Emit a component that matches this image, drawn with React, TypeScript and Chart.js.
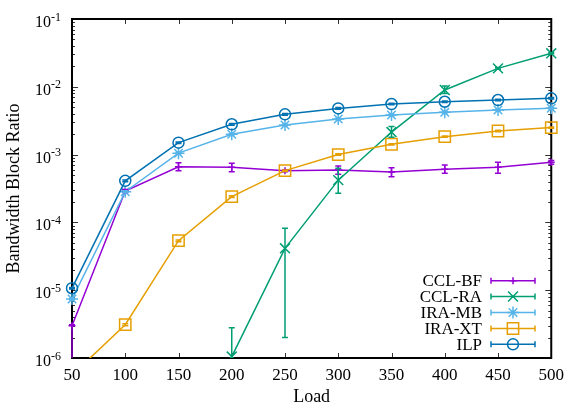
import React, { useEffect, useRef } from 'react';
import { Chart, registerables } from 'chart.js';
import { drawPoint } from 'chart.js/helpers';

Chart.register(...registerables);

// ---- data ----
const loads = [50, 100, 150, 200, 250, 300, 350, 400, 450, 500];

const cclBF = [3.0e-6, 2.9e-4, 6.63e-4, 6.5e-4, 5.8e-4, 5.93e-4, 5.54e-4, 6.07e-4, 6.5e-4, 7.69e-4];
const cclBFLow = [4e-7, 2.75e-4, 5.79e-4, 5.6e-4, 5.6e-4, 5.12e-4, 4.72e-4, 5.3e-4, 5.3e-4, 7.2e-4];
const cclBFHigh = [3.1e-6, 3.05e-4, 7.6e-4, 7.45e-4, 6.0e-4, 6.79e-4, 6.41e-4, 7.03e-4, 7.69e-4, 8.2e-4];

const cclRA = [null, null, null, 1.05e-6, 4.15e-5, 4.2e-4, 2.15e-3, 8.97e-3, 1.87e-2, 3.12e-2];
const cclRALow = [null, null, null, 3e-7, 2.0e-6, 2.7e-4, 1.8e-3, 7.98e-3, 1.82e-2, 3.06e-2];
const cclRAHigh = [null, null, null, 2.8e-6, 8.2e-5, 6.3e-4, 2.6e-3, 1.03e-2, 1.93e-2, 3.18e-2];

const iraMB = [7.4e-6, 2.84e-4, 1.05e-3, 2.0e-3, 2.73e-3, 3.35e-3, 3.84e-3, 4.2e-3, 4.55e-3, 4.82e-3];
const iraMBLow = [7.2e-6, 2.76e-4, 1.02e-3, 1.95e-3, 2.66e-3, 3.27e-3, 3.75e-3, 4.1e-3, 4.44e-3, 4.7e-3];
const iraMBHigh = [7.6e-6, 2.92e-4, 1.08e-3, 2.05e-3, 2.8e-3, 3.43e-3, 3.93e-3, 4.3e-3, 4.66e-3, 4.94e-3];

const iraXT = [5.6e-7, 3.1e-6, 5.37e-5, 2.4e-4, 5.8e-4, 1.0e-3, 1.42e-3, 1.84e-3, 2.23e-3, 2.5e-3];
const iraXTLow = [5.4e-7, 3.0e-6, 5.2e-5, 2.33e-4, 5.65e-4, 9.75e-4, 1.39e-3, 1.8e-3, 2.18e-3, 2.44e-3];
const iraXTHigh = [5.8e-7, 3.2e-6, 5.5e-5, 2.47e-4, 5.95e-4, 1.03e-3, 1.45e-3, 1.88e-3, 2.28e-3, 2.56e-3];

const ilp = [1.07e-5, 4.1e-4, 1.5e-3, 2.8e-3, 3.93e-3, 4.8e-3, 5.57e-3, 6.02e-3, 6.38e-3, 6.76e-3];
const ilpLow = [1.04e-5, 3.98e-4, 1.46e-3, 2.72e-3, 3.82e-3, 4.67e-3, 5.42e-3, 5.86e-3, 6.21e-3, 6.58e-3];
const ilpHigh = [1.1e-5, 4.22e-4, 1.54e-3, 2.88e-3, 4.04e-3, 4.93e-3, 5.72e-3, 6.18e-3, 6.55e-3, 6.94e-3];

const yDecades = [-6, -5, -4, -3, -2, -1];

const FONT = '"Liberation Serif", "Times New Roman", serif';

type Series = {
  label: string;
  values: (number | null)[];
  low: (number | null)[];
  high: (number | null)[];
  color: string;
  pointStyle: string;
  radius: number;
};

const SERIES: Series[] = [
  { label: 'CCL-BF', values: cclBF, low: cclBFLow, high: cclBFHigh, color: '#9400D3', pointStyle: 'cross', radius: 3.5 },
  { label: 'CCL-RA', values: cclRA, low: cclRALow, high: cclRAHigh, color: '#009E73', pointStyle: 'crossRot', radius: 7 },
  { label: 'IRA-MB', values: iraMB, low: iraMBLow, high: iraMBHigh, color: '#56B4E9', pointStyle: 'star', radius: 6 },
  { label: 'IRA-XT', values: iraXT, low: iraXTLow, high: iraXTHigh, color: '#E69F00', pointStyle: 'rect', radius: 8 },
  { label: 'ILP', values: ilp, low: ilpLow, high: ilpHigh, color: '#0072B2', pointStyle: 'circle', radius: 5.5 },
];

const CAP = 3;

const decorPlugin = {
  id: 'decor',
  beforeDatasetsDraw(chart: any) {
    const ctx = chart.ctx as CanvasRenderingContext2D;
    const { left, right, top, bottom } = chart.chartArea;
    const xs = chart.scales.x;
    const ys = chart.scales.y;
    ctx.save();
    // inward ticks
    ctx.strokeStyle = '#333';
    ctx.lineWidth = 1;
    ctx.beginPath();
    loads.forEach((v) => {
      const px = Math.round(xs.getPixelForValue(v)) + 0.5;
      ctx.moveTo(px, bottom);
      ctx.lineTo(px, bottom - 5);
      ctx.moveTo(px, top);
      ctx.lineTo(px, top + 5);
    });
    yDecades.forEach((d) => {
      for (let m = 1; m <= 9; m++) {
        const v = m * Math.pow(10, d);
        if (v > 0.1 * 1.0001) continue;
        const py = Math.round(ys.getPixelForValue(v)) + 0.5;
        const len = m === 1 ? 6 : 3;
        ctx.moveTo(left, py);
        ctx.lineTo(left + len, py);
        ctx.moveTo(right, py);
        ctx.lineTo(right - len, py);
      }
    });
    ctx.stroke();
    // frame
    ctx.strokeStyle = '#000';
    ctx.lineWidth = 2;
    ctx.strokeRect(left, top, right - left, bottom - top);
    ctx.restore();
  },
  afterDatasetsDraw(chart: any) {
    const ctx = chart.ctx as CanvasRenderingContext2D;
    const { left, right, top, bottom } = chart.chartArea;
    const xs = chart.scales.x;
    const ys = chart.scales.y;
    ctx.save();
    ctx.beginPath();
    ctx.rect(left - 10, top, right - left + 20, bottom - top);
    ctx.clip();
    ctx.lineWidth = 1.5;
    SERIES.forEach((s) => {
      ctx.strokeStyle = s.color;
      for (let i = 0; i < loads.length; i++) {
        const lo = s.low[i];
        const hi = s.high[i];
        if (s.values[i] == null || lo == null || hi == null) continue;
        const px = xs.getPixelForValue(loads[i]);
        const yl = ys.getPixelForValue(lo);
        const yh = ys.getPixelForValue(hi);
        ctx.beginPath();
        ctx.moveTo(px, yl);
        ctx.lineTo(px, yh);
        ctx.moveTo(px - CAP, yl);
        ctx.lineTo(px + CAP, yl);
        ctx.moveTo(px - CAP, yh);
        ctx.lineTo(px + CAP, yh);
        ctx.stroke();
      }
    });
    ctx.restore();
  },
  afterDraw(chart: any) {
    const ctx = chart.ctx as CanvasRenderingContext2D;
    const ys = chart.scales.y;
    ctx.save();
    // y tick labels 10^n
    ctx.fillStyle = '#000';
    ctx.textBaseline = 'alphabetic';
    ctx.textAlign = 'right';
    yDecades.forEach((d) => {
      const py = ys.getPixelForValue(Math.pow(10, d));
      const exp = String(d);
      ctx.font = `12px ${FONT}`;
      const ew = ctx.measureText(exp).width;
      ctx.fillText(exp, 61, py + 1.5);
      ctx.font = `16px ${FONT}`;
      ctx.fillText('10', 61 - ew, py + 8);
    });

    // legend
    const lx0 = 491;
    const lx1 = 535;
    const mx = 513;
    const textX = 482;
    const rowY = [280.7, 296.5, 312.5, 328.5, 344.3];
    ctx.font = `17px ${FONT}`;
    ctx.textAlign = 'right';
    ctx.textBaseline = 'middle';
    SERIES.forEach((s, i) => {
      const y = rowY[i];
      ctx.fillStyle = '#000';
      ctx.fillText(s.label, textX, y + 1);
      ctx.strokeStyle = s.color;
      ctx.lineWidth = 1.5;
      ctx.beginPath();
      ctx.moveTo(lx0, y);
      ctx.lineTo(lx1, y);
      ctx.moveTo(lx0, y - CAP);
      ctx.lineTo(lx0, y + CAP);
      ctx.moveTo(lx1, y - CAP);
      ctx.lineTo(lx1, y + CAP);
      ctx.stroke();
      ctx.fillStyle = 'rgba(0,0,0,0)';
      drawPoint(ctx, { pointStyle: s.pointStyle as any, radius: s.radius, rotation: 0, borderWidth: 1.5 } as any, mx, y);
    });
    ctx.restore();
  },
};

export default function App() {
  const ref = useRef<HTMLCanvasElement>(null);
  useEffect(() => {
    document.body.style.margin = '0';
    const datasets = SERIES.map((s, i) => ({
      label: s.label,
      data: loads.map((x, j) => ({ x, y: s.values[j] })),
      borderColor: s.color,
      backgroundColor: 'rgba(0,0,0,0)',
      pointBorderColor: s.color,
      pointBackgroundColor: 'rgba(0,0,0,0)',
      pointStyle: s.pointStyle,
      pointRadius: s.radius,
      pointBorderWidth: 1.5,
      borderWidth: 1.5,
      tension: 0,
      spanGaps: false,
      clip: { left: 10, right: 10, top: 10, bottom: 0 },
      order: SERIES.length - i,
    }));
    const chart = new Chart(ref.current as HTMLCanvasElement, {
      type: 'line',
      data: { datasets: datasets as any },
      plugins: [decorPlugin as any],
      options: {
        animation: false,
        responsive: false,
        events: [],
        layout: { padding: { left: 0, right: 16, top: 19, bottom: 0 } },
        plugins: { legend: { display: false }, tooltip: { enabled: false } },
        scales: {
          x: {
            type: 'linear',
            min: 50,
            max: 500,
            ticks: { stepSize: 50, padding: 7, color: '#000', font: { family: FONT, size: 17 }, autoSkip: false, maxRotation: 0 },
            grid: { display: false, drawTicks: false },
            border: { display: false },
            title: { display: true, text: 'Load', color: '#000', font: { family: FONT, size: 18, lineHeight: 1 }, padding: 0 },
            afterFit: (s: any) => { s.height = 48; },
          },
          y: {
            type: 'logarithmic',
            min: 1e-6,
            max: 1e-1,
            ticks: { display: false },
            grid: { display: false, drawTicks: false },
            border: { display: false },
            title: { display: true, text: 'Bandwidth Block Ratio', color: '#000', font: { family: FONT, size: 18, lineHeight: 1 }, padding: 5 },
            afterFit: (s: any) => { s.width = 72; },
          },
        },
      } as any,
    });
    return () => chart.destroy();
  }, []);
  return (
    <div style={{ width: 571, height: 406 }}>
      <canvas ref={ref} width={571} height={406} style={{ display: 'block' }} />
    </div>
  );
}
